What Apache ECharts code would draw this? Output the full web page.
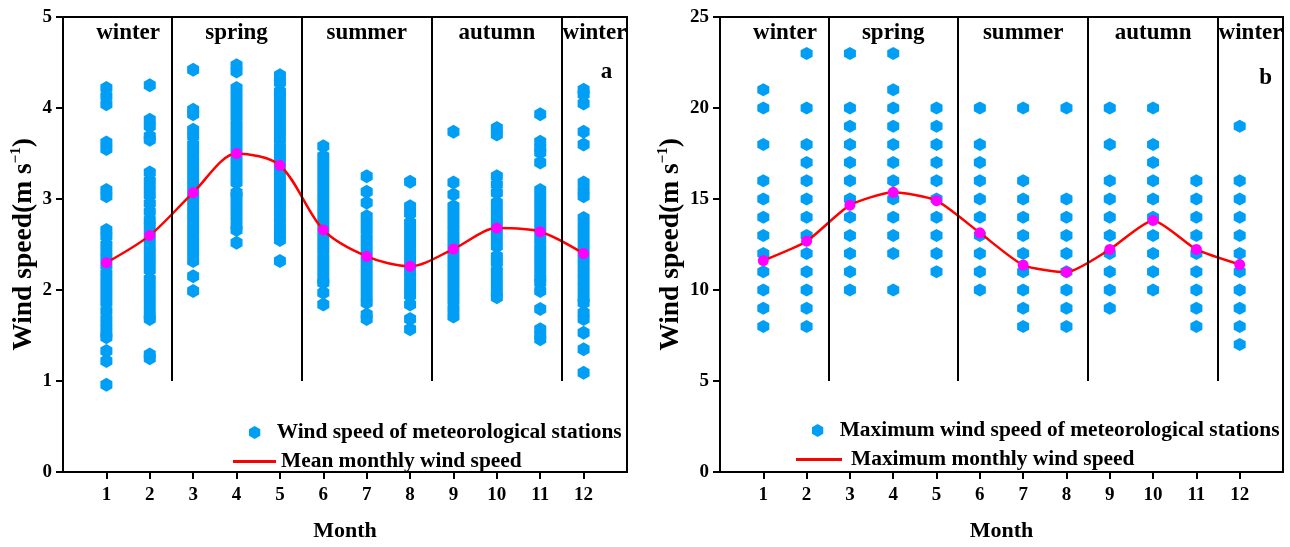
<!DOCTYPE html>
<html><head><meta charset="utf-8">
<script src="https://cdn.jsdelivr.net/npm/echarts@6/dist/echarts.min.js"></script>
<style>html,body{margin:0;padding:0;background:#fff}#c{width:1290px;height:547px}</style>
</head><body><div id="c"></div>
<script>
// ---------- DATA ----------
const months = [1,2,3,4,5,6,7,8,9,10,11,12];
// Panel a: wind speed of meteorological stations (m/s), per month
const stationWind = [
  [4.22,4.13,4.04,3.62,3.55,3.10,3.03,2.66,2.59,2.50,2.42,2.35,2.27,2.18,2.10,2.02,1.94,1.86,1.77,1.68,1.60,1.52,1.48,1.33,1.22,0.96],
  [4.25,3.87,3.80,3.69,3.65,3.29,3.20,3.12,3.04,2.95,2.86,2.77,2.70,2.62,2.54,2.46,2.38,2.30,2.22,2.12,2.04,1.96,1.88,1.80,1.72,1.68,1.29,1.25],
  [4.42,3.98,3.93,3.76,3.69,3.60,3.52,3.44,3.36,3.28,3.20,3.12,3.04,2.96,2.88,2.80,2.72,2.64,2.56,2.48,2.40,2.32,2.15,1.99],
  [4.47,4.40,4.22,4.14,4.06,3.98,3.90,3.82,3.74,3.66,3.58,3.50,3.42,3.34,3.26,3.18,3.07,3.03,2.95,2.87,2.79,2.71,2.66,2.52],
  [4.36,4.28,4.18,4.13,4.05,3.97,3.89,3.81,3.73,3.65,3.57,3.49,3.41,3.33,3.25,3.17,3.09,3.01,2.93,2.85,2.77,2.69,2.61,2.55,2.32],
  [3.58,3.47,3.39,3.31,3.23,3.15,3.07,2.99,2.91,2.83,2.75,2.67,2.59,2.51,2.43,2.35,2.27,2.19,2.11,2.08,1.97,1.84],
  [3.25,3.08,2.96,2.81,2.73,2.65,2.57,2.49,2.41,2.33,2.25,2.17,2.09,2.01,1.93,1.86,1.73,1.68],
  [3.19,2.92,2.84,2.74,2.66,2.58,2.50,2.42,2.34,2.26,2.18,2.10,2.02,1.94,1.84,1.68,1.57],
  [3.74,3.18,3.05,2.92,2.84,2.76,2.68,2.60,2.52,2.44,2.36,2.28,2.20,2.12,2.04,1.96,1.88,1.79,1.71],
  [3.78,3.71,3.25,3.16,3.07,2.96,2.88,2.80,2.72,2.64,2.56,2.48,2.37,2.30,2.21,2.13,2.05,1.97,1.92],
  [3.93,3.63,3.56,3.51,3.40,3.10,3.02,2.94,2.86,2.78,2.70,2.62,2.54,2.46,2.38,2.30,2.22,2.14,2.08,1.99,1.79,1.57,1.50,1.46],
  [4.20,4.15,4.05,3.74,3.60,3.18,3.10,3.03,2.79,2.71,2.63,2.55,2.47,2.39,2.31,2.23,2.15,2.07,1.99,1.91,1.86,1.75,1.68,1.53,1.35,1.09]
];
const meanWind = [2.30,2.60,3.07,3.50,3.37,2.66,2.37,2.26,2.45,2.68,2.64,2.40];
// Panel b: maximum wind speed of meteorological stations (m/s)
const stationMaxWind = [
  [21,20,18,16,15,14,13,12,11,10,9,8],
  [23,20,18,17,16,15,14,13,12,11,10,9,8],
  [23,20,19,18,17,16,15,14,13,12,11,10],
  [23,21,20,19,18,17,16,15,14,13,12,10],
  [20,19,18,17,16,15,14,13,12,11],
  [20,18,17,16,15,14,13,12,11,10],
  [20,16,15,14,13,12,11,10,9,8],
  [20,15,14,13,12,11,10,9,8],
  [20,18,16,15,14,13,12,11,10,9],
  [20,18,17,16,15,14,13,12,11,10],
  [16,15,14,13,12,11,10,9,8],
  [19,16,15,14,13,12,11,10,9,8,7]
];
const maxMonthlyWind = [11.62,12.68,14.66,15.37,14.91,13.14,11.37,10.98,12.23,13.82,12.23,11.40];
// Season separators and labels
const seasonBreaks = [2.5,5.5,8.5,11.5];
const seasonNames = ['winter','spring','summer','autumn','winter'];
const seasonCenters = [1.5,4,7,10,12.25];
const legendNames = {
  aS:'Wind speed of meteorological stations', aL:'Mean monthly wind speed',
  bS:'Maximum wind speed of meteorological stations', bL:'Maximum monthly wind speed'
};

// ---------- STYLE ----------
const FONT = "'Liberation Serif','Times New Roman',serif";
const BLUE = '#009FF5';
const HEX = 'path://M0,-10 L8.66,-5 L8.66,5 L0,10 L-8.66,5 L-8.66,-5 Z';
const txt = (size)=>({fontFamily:FONT, fontWeight:'bold', fontSize:size, color:'#000'});

function flatten(arr){ const out=[]; arr.forEach((vals,i)=>vals.forEach(v=>out.push([months[i],v]))); return out; }

function xAxis(gi){
  return {
    gridIndex:gi, type:'value', min:0, max:13, interval:1,
    axisLine:{show:true,onZero:false,lineStyle:{color:'#000',width:2}},
    axisTick:{show:true,customValues:months,length:7,lineStyle:{color:'#000',width:2}},
    axisLabel:{customValues:months,margin:14,...txt(19)},
    splitLine:{show:false},
    name:'Month', nameLocation:'middle', nameGap:48, nameTextStyle:txt(22)
  };
}
function yAxis(gi,max,interval,gap){
  return {
    gridIndex:gi, type:'value', min:0, max:max, interval:interval,
    axisLine:{show:true,lineStyle:{color:'#000',width:2}},
    axisTick:{show:true,length:7,lineStyle:{color:'#000',width:2}},
    axisLabel:{margin:11,...txt(19)},
    splitLine:{show:false},
    name:'Wind speed(m s{sup|−1})', nameLocation:'middle', nameGap:gap,
    nameTextStyle:{...txt(27.5), rich:{sup:{...txt(15), padding:[0,0,14,0]}}}
  };
}
function sepLines(yLo,yHi){
  return seasonBreaks.map(x=>[{coord:[x,yLo]},{coord:[x,yHi]}]);
}
function labelSeries(gi,yPos,letter,letterPos){
  const data = seasonNames.map((n,i)=>({value:[seasonCenters[i],yPos],name:n}));
  data.push({value:letterPos,name:letter});
  return {
    type:'scatter', xAxisIndex:gi, yAxisIndex:gi, symbol:'circle', symbolSize:1, silent:true,
    itemStyle:{color:'transparent',opacity:1}, data:data, z:5, emphasis:{disabled:true},
    label:{show:true, position:'inside', formatter:p=>p.name, ...txt(23)}
  };
}

const chart = echarts.init(document.getElementById('c'));
chart.setOption({
  animation:false,
  grid:[
    {left:63,right:663,top:17,bottom:74,show:true,borderColor:'#000',borderWidth:2},
    {left:720,right:7,top:17,bottom:74,show:true,borderColor:'#000',borderWidth:2}
  ],
  xAxis:[xAxis(0),xAxis(1)],
  yAxis:[yAxis(0,5,1,25),yAxis(1,25,5,35)],
  legend:[
    {data:[{name:legendNames.aS,icon:HEX}],left:249,top:422,padding:0,itemWidth:12,itemHeight:13,
      textStyle:{...txt(21.4),padding:[0,0,0,11]}},
    {data:[{name:legendNames.aL,icon:'rect',itemStyle:{color:'#FF0000'}}],left:233,top:451,padding:0,itemWidth:43,itemHeight:3,
      textStyle:{...txt(21.4)}},
    {data:[{name:legendNames.bS,icon:HEX}],left:812,top:420,padding:0,itemWidth:12,itemHeight:13,
      textStyle:{...txt(21.4),padding:[0,0,0,11]}},
    {data:[{name:legendNames.bL,icon:'rect',itemStyle:{color:'#FF0000'}}],left:796,top:449,padding:0,itemWidth:46,itemHeight:3,
      textStyle:{...txt(21.4),padding:[0,0,0,4]}}
  ],
  series:[
    {name:legendNames.aS,type:'scatter',xAxisIndex:0,yAxisIndex:0,symbol:HEX,symbolSize:[12,14],
      itemStyle:{color:BLUE,opacity:1},data:flatten(stationWind),z:2,
      markLine:{silent:true,symbol:'none',label:{show:false},lineStyle:{color:'#000',width:2,type:'solid'},data:sepLines(1,5)}},
    {name:legendNames.aL,type:'line',xAxisIndex:0,yAxisIndex:0,smooth:0.3,symbol:'circle',symbolSize:11,
      itemStyle:{color:'#FF00FF'},lineStyle:{color:'#FF0000',width:2.5},
      data:months.map((m,i)=>[m,meanWind[i]]),z:4},
    {name:legendNames.bS,type:'scatter',xAxisIndex:1,yAxisIndex:1,symbol:HEX,symbolSize:[12,13],
      itemStyle:{color:BLUE,opacity:1},data:flatten(stationMaxWind),z:2,
      markLine:{silent:true,symbol:'none',label:{show:false},lineStyle:{color:'#000',width:2,type:'solid'},data:sepLines(5,25)}},
    {name:legendNames.bL,type:'line',xAxisIndex:1,yAxisIndex:1,smooth:0.2,symbol:'circle',symbolSize:11,
      itemStyle:{color:'#FF00FF'},lineStyle:{color:'#FF0000',width:2.5},
      data:months.map((m,i)=>[m,maxMonthlyWind[i]]),z:4},
    labelSeries(0,4.82,'a',[12.53,4.40]),
    labelSeries(1,24.12,'b',[12.6,21.65])
  ]
});
</script></body></html>
